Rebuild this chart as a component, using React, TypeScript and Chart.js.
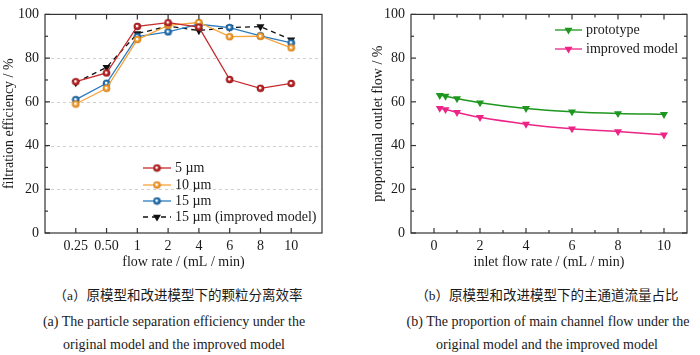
import React, { useEffect, useRef } from 'react';
import { Chart, registerables } from 'chart.js';
Chart.register(...registerables);

// ---- data: panel (a) ----
const flowLabels = ['0.25', '0.50', '1', '2', '4', '6', '8', '10'];
const eff5um = [69.2, 73.2, 94.5, 96.2, 94.2, 70.2, 66.2, 68.4];
const eff10um = [59.0, 66.2, 88.5, 95.0, 96.3, 89.8, 90.0, 84.7];
const eff15um = [61.0, 68.5, 89.8, 92.0, 95.5, 94.0, 90.2, 87.0];
const eff15umImproved = [68.8, 75.8, 91.2, 94.6, 92.6, 94.0, 94.4, 88.4];
const effTicks = [0, 20, 40, 60, 80, 100];

// ---- data: panel (b) ----
const inletFlow = [0.25, 0.5, 1, 2, 4, 6, 8, 10];
const prototypeFlow = [63.0, 62.6, 61.5, 59.6, 57.0, 55.5, 54.7, 54.3];
const improvedFlow = [57.1, 56.5, 55.2, 52.9, 49.8, 47.7, 46.4, 44.9];
const inletTicks = [0, 2, 4, 6, 8, 10];
const flowTicks = [0, 20, 40, 60, 80, 100];

const FONT = '"Liberation Serif", "Times New Roman", serif';
const TXT = '#1a1a1a';
const AX = '#333333';

const RED = '#c62a2c';
const ORANGE = '#f7a43a';
const BLUE = '#2b7cc0';
const BLACK = '#111111';
const GREEN = '#1f961f';
const PINK = '#ec2486';

function sphere(color: string, dark: string): HTMLCanvasElement {
  const c = document.createElement('canvas');
  const s = 9;
  c.width = s;
  c.height = s;
  const g = c.getContext('2d')!;
  const grad = g.createRadialGradient(4.0, 4.0, 0.1, 4.5, 4.5, 4.0);
  grad.addColorStop(0, '#ffffff');
  grad.addColorStop(0.22, '#ffffff');
  grad.addColorStop(0.4, color);
  grad.addColorStop(1, dark);
  g.fillStyle = grad;
  g.beginPath();
  g.arc(4.5, 4.5, 3.8, 0, Math.PI * 2);
  g.fill();
  return c;
}

function triPath(ctx: CanvasRenderingContext2D, x: number, y: number, r: number) {
  let rad = Math.PI;
  ctx.beginPath();
  ctx.moveTo(x + Math.sin(rad) * r, y - Math.cos(rad) * r);
  rad += (2 * Math.PI) / 3;
  ctx.lineTo(x + Math.sin(rad) * r, y - Math.cos(rad) * r);
  rad += (2 * Math.PI) / 3;
  ctx.lineTo(x + Math.sin(rad) * r, y - Math.cos(rad) * r);
  ctx.closePath();
}

type LegendItem = { label: string; color: string; dash?: number[]; img?: HTMLCanvasElement; tri?: boolean };
type DecorCfg = {
  gridY?: number[];
  xMajor: number[];
  xMinor: number[];
  yMajor: number[];
  yMinor: number[];
  rightTicks: boolean;
  legend: { x0: number; x1: number; tx: number; ys: number[]; items: LegendItem[] };
};

function decor(cfg: DecorCfg) {
  return {
    id: 'decor',
    beforeDatasetsDraw(chart: any) {
      const { ctx, chartArea: a, scales } = chart;
      if (cfg.gridY) {
        ctx.save();
        ctx.strokeStyle = '#d0d0d0';
        ctx.lineWidth = 1;
        ctx.setLineDash([3, 3]);
        for (const v of cfg.gridY) {
          const y = Math.round(scales.y.getPixelForValue(v)) + 0.5;
          ctx.beginPath();
          ctx.moveTo(a.left, y);
          ctx.lineTo(a.right, y);
          ctx.stroke();
        }
        ctx.restore();
      }
    },
    afterDatasetsDraw(chart: any) {
      const { ctx, chartArea: a, scales } = chart;
      ctx.save();
      ctx.strokeStyle = AX;
      ctx.lineWidth = 1.2;
      ctx.strokeRect(a.left, a.top, a.right - a.left, a.bottom - a.top);
      const tick = (x1: number, y1: number, x2: number, y2: number) => {
        ctx.beginPath();
        ctx.moveTo(x1, y1);
        ctx.lineTo(x2, y2);
        ctx.stroke();
      };
      const xs = (list: number[], len: number) => {
        for (const v of list) {
          const x = scales.x.getPixelForValue(v);
          tick(x, a.bottom, x, a.bottom - len);
          tick(x, a.top, x, a.top + len);
        }
      };
      const ys = (list: number[], len: number) => {
        for (const v of list) {
          const y = scales.y.getPixelForValue(v);
          tick(a.left, y, a.left + len, y);
          if (cfg.rightTicks) tick(a.right, y, a.right - len, y);
        }
      };
      xs(cfg.xMajor, 5);
      xs(cfg.xMinor, 3);
      ys(cfg.yMajor, 5);
      ys(cfg.yMinor, 3);
      ctx.restore();
    },
    afterDraw(chart: any) {
      const { ctx } = chart;
      const L = cfg.legend;
      ctx.save();
      L.items.forEach((it, i) => {
        const y = L.ys[i];
        ctx.strokeStyle = it.color;
        ctx.lineWidth = 1.3;
        ctx.setLineDash(it.dash || []);
        ctx.beginPath();
        ctx.moveTo(L.x0, y);
        ctx.lineTo(L.x1, y);
        ctx.stroke();
        ctx.setLineDash([]);
        const mx = (L.x0 + L.x1) / 2;
        if (it.img) {
          ctx.drawImage(it.img, mx - it.img.width / 2, y - it.img.height / 2);
        } else if (it.tri) {
          ctx.fillStyle = it.color;
          triPath(ctx, mx, y, 4.6);
          ctx.fill();
        }
        ctx.fillStyle = TXT;
        ctx.font = `14px ${FONT}`;
        ctx.textBaseline = 'middle';
        ctx.textAlign = 'left';
        ctx.fillText(it.label, L.tx, y);
      });
      ctx.restore();
    },
  };
}

const tickFont = { family: FONT, size: 14 };

function ChartA() {
  const ref = useRef<HTMLCanvasElement>(null);
  useEffect(() => {
    const sRed = sphere(RED, '#8a1515');
    const sOrange = sphere(ORANGE, '#d07a10');
    const sBlue = sphere(BLUE, '#17507f');
    const mk = (vals: number[]) => vals.map((v, i) => ({ x: i + 1, y: v }));
    const chart = new Chart(ref.current!, {
      type: 'line',
      data: {
        datasets: [
          { label: '5 µm', data: mk(eff5um), borderColor: RED, borderWidth: 1.3, pointStyle: sRed as any, tension: 0 },
          { label: '10 µm', data: mk(eff10um), borderColor: ORANGE, borderWidth: 1.3, pointStyle: sOrange as any, tension: 0 },
          { label: '15 µm', data: mk(eff15um), borderColor: BLUE, borderWidth: 1.3, pointStyle: sBlue as any, tension: 0 },
          {
            label: '15 µm (improved model)', data: mk(eff15umImproved), borderColor: BLACK, borderWidth: 1.3,
            borderDash: [5, 4], pointStyle: 'triangle', pointRadius: 4.6, pointRotation: 180,
            pointBackgroundColor: BLACK, pointBorderColor: BLACK, pointBorderWidth: 0, tension: 0,
          },
        ],
      },
      options: {
        animation: false,
        responsive: false,
        layout: { padding: { left: 0, right: 28, top: 12, bottom: 0 } },
        plugins: { legend: { display: false }, tooltip: { enabled: false } },
        scales: {
          x: {
            type: 'linear', min: 0, max: 9,
            afterBuildTicks: (s: any) => { s.ticks = flowLabels.map((_, i) => ({ value: i + 1 })); },
            ticks: { callback: (v: any) => flowLabels[Number(v) - 1] ?? '', font: tickFont, color: TXT, padding: 5, autoSkip: false, maxRotation: 0 },
            grid: { display: false, drawTicks: false },
            border: { display: false },
            title: { display: true, text: 'flow rate / (mL / min)', font: tickFont, color: TXT, padding: { top: 0, bottom: 4 } },
            afterFit: (s: any) => { s.height = 42; },
          },
          y: {
            min: 0, max: 100,
            afterBuildTicks: (s: any) => { s.ticks = effTicks.map((v) => ({ value: v })); },
            ticks: { font: tickFont, color: TXT, padding: 6 },
            grid: { display: false, drawTicks: false },
            border: { display: false },
            title: { display: true, text: 'filtration efficiency / %', font: tickFont, color: TXT, padding: { top: 1, bottom: 0 } },
            afterFit: (s: any) => { s.width = 45; },
          },
        },
      },
      plugins: [
        decor({
          gridY: [20, 40, 60, 80],
          xMajor: flowLabels.map((_, i) => i + 1),
          xMinor: [],
          yMajor: effTicks,
          yMinor: [10, 30, 50, 70, 90],
          rightTicks: false,
          legend: {
            x0: 143, x1: 171, tx: 175, ys: [168, 185, 201, 217],
            items: [
              { label: '5 µm', color: RED, img: sRed },
              { label: '10 µm', color: ORANGE, img: sOrange },
              { label: '15 µm', color: BLUE, img: sBlue },
              { label: '15 µm (improved model)', color: BLACK, dash: [5, 4], tri: true },
            ],
          },
        }) as any,
      ],
    } as any);
    return () => chart.destroy();
  }, []);
  return <canvas ref={ref} width={350} height={275} style={{ position: 'absolute', left: 0, top: 0, width: 350, height: 275 }} />;
}

function ChartB() {
  const ref = useRef<HTMLCanvasElement>(null);
  useEffect(() => {
    const mk = (vals: number[]) => vals.map((v, i) => ({ x: inletFlow[i], y: v }));
    const chart = new Chart(ref.current!, {
      type: 'line',
      data: {
        datasets: [
          {
            label: 'prototype', data: mk(prototypeFlow), borderColor: GREEN, borderWidth: 1.5,
            pointStyle: 'triangle', pointRadius: 4.6, pointRotation: 180, pointBackgroundColor: GREEN,
            pointBorderColor: GREEN, pointBorderWidth: 0, cubicInterpolationMode: 'monotone',
          },
          {
            label: 'improved model', data: mk(improvedFlow), borderColor: PINK, borderWidth: 1.5,
            pointStyle: 'triangle', pointRadius: 4.6, pointRotation: 180, pointBackgroundColor: PINK,
            pointBorderColor: PINK, pointBorderWidth: 0, cubicInterpolationMode: 'monotone',
          },
        ],
      },
      options: {
        animation: false,
        responsive: false,
        layout: { padding: { left: 0, right: 13, top: 12, bottom: 0 } },
        plugins: { legend: { display: false }, tooltip: { enabled: false } },
        scales: {
          x: {
            type: 'linear', min: -1, max: 11,
            afterBuildTicks: (s: any) => { s.ticks = inletTicks.map((v) => ({ value: v })); },
            ticks: { font: tickFont, color: TXT, padding: 5, autoSkip: false, maxRotation: 0 },
            grid: { display: false, drawTicks: false },
            border: { display: false },
            title: { display: true, text: 'inlet flow rate / (mL / min)', font: tickFont, color: TXT, padding: { top: 0, bottom: 4 } },
            afterFit: (s: any) => { s.height = 42; },
          },
          y: {
            min: 0, max: 100,
            afterBuildTicks: (s: any) => { s.ticks = flowTicks.map((v) => ({ value: v })); },
            ticks: { font: tickFont, color: TXT, padding: 6 },
            grid: { display: false, drawTicks: false },
            border: { display: false },
            title: { display: true, text: 'proportional outlet flow / %', font: tickFont, color: TXT, padding: { top: 20, bottom: 0 } },
            afterFit: (s: any) => { s.width = 61; },
          },
        },
      },
      plugins: [
        decor({
          xMajor: inletTicks,
          xMinor: [1, 3, 5, 7, 9],
          yMajor: flowTicks,
          yMinor: [10, 30, 50, 70, 90],
          rightTicks: true,
          legend: {
            x0: 205, x1: 232, tx: 236, ys: [30, 49],
            items: [
              { label: 'prototype', color: GREEN, tri: true },
              { label: 'improved model', color: PINK, tri: true },
            ],
          },
        }) as any,
      ],
    } as any);
    return () => chart.destroy();
  }, []);
  return <canvas ref={ref} width={350} height={275} style={{ position: 'absolute', left: 350, top: 0, width: 350, height: 275 }} />;
}

const capStyle = (cx: number, top: number, size: number): React.CSSProperties => ({
  position: 'absolute',
  left: cx - 200,
  top,
  width: 400,
  textAlign: 'center',
  fontFamily: '"Liberation Serif", "Noto Sans CJK SC", serif',
  fontSize: size,
  lineHeight: '18px',
  color: TXT,
  whiteSpace: 'nowrap',
});

export default function App() {
  return (
    <div style={{ position: 'absolute', left: 0, top: 0, width: 700, height: 355, background: '#fff', overflow: 'hidden' }}>
      <ChartA />
      <ChartB />
      <div style={capStyle(178, 287, 13.5)}>（a）原模型和改进模型下的颗粒分离效率</div>
      <div style={capStyle(174, 313, 14)}>(a) The particle separation efficiency under the</div>
      <div style={capStyle(174, 336, 14)}>original model and the improved model</div>
      <div style={capStyle(547, 287, 13.5)}>（b）原模型和改进模型下的主通道流量占比</div>
      <div style={capStyle(548, 313, 14)}>(b) The proportion of main channel flow under the</div>
      <div style={capStyle(547, 336, 14)}>original model and the improved model</div>
    </div>
  );
}
